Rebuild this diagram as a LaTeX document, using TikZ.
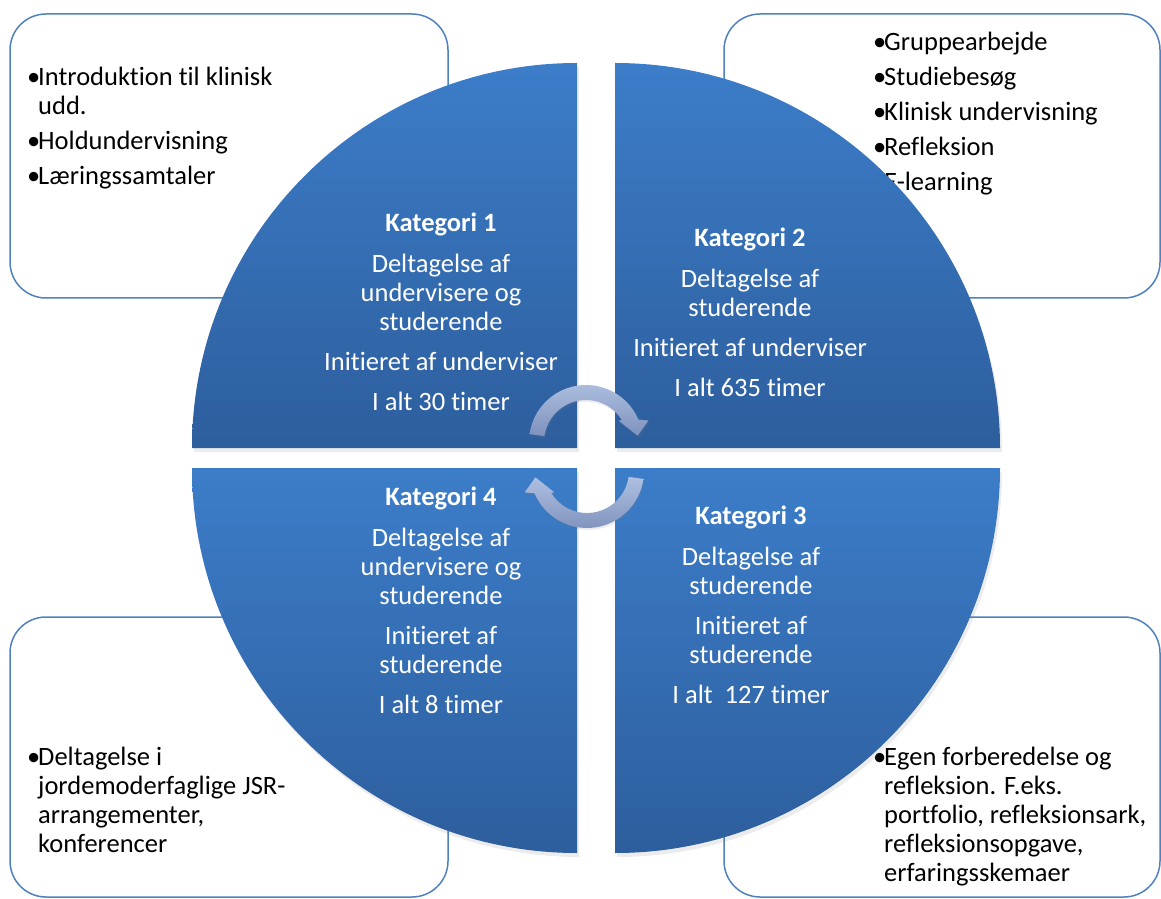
\documentclass[tikz,border=0pt]{standalone}
\usepackage{fontspec}
\setmainfont{Carlito}[Ligatures=NoCommon]
\usetikzlibrary{shadows}
\definecolor{rammeblaa}{RGB}{79,129,189}
\definecolor{kvtop}{RGB}{60,125,201}
\definecolor{kvbund}{RGB}{45,94,157}
\definecolor{piltop}{RGB}{174,192,224}
\definecolor{pilbund}{RGB}{126,145,189}
\newcommand{\pkt}{\makebox[11pt][l]{\textbullet}}
\newcommand{\fort}{\hspace*{11pt}}

\begin{document}
\begin{tikzpicture}[line cap=round,line join=round,x=1pt,y=1pt,
    ramme/.style={draw=rammeblaa,line width=1.5pt,rounded corners=36pt},
    kvadrant/.style={top color=kvtop,bottom color=kvbund,
      drop shadow={shadow xshift=2pt,shadow yshift=-4pt,opacity=0.15}},
    kattekst/.style={anchor=north,align=center,inner sep=0pt,text=white,
      font=\fontsize{26.5}{29}\selectfont},
    punkter/.style={anchor=north west,align=left,inner sep=0pt,
      font=\fontsize{26.5}{29}\selectfont},
    pil/.style={top color=piltop,bottom color=pilbund,
      drop shadow={shadow xshift=1pt,shadow yshift=-2pt,opacity=0.15}}]
    \useasboundingbox (0,0) rectangle (1161,898);
    \draw[ramme] (10,600) rectangle (448,884);
    \draw[ramme] (724,600) rectangle (1160,884);
    \draw[ramme] (10,1) rectangle (448,281);
    \draw[ramme] (724,1) rectangle (1160,281);
    \node[punkter] (liste1) at (27,831) {\pkt Introduktion til klinisk\\\fort udd.\\[6pt]\pkt Holdundervisning\\[6pt]\pkt Læringssamtaler};
    \node[punkter] (liste2) at (873,866) {\pkt Gruppearbejde\\[6pt]\pkt Studiebesøg\\[6pt]\pkt Klinisk undervisning\\[6pt]\pkt Refleksion\\[6pt]\pkt E-learning};
    \node[punkter] (liste3) at (873,151) {\pkt Egen forberedelse og\\\fort refleksion. F.eks.\\\fort portfolio, refleksionsark,\\\fort refleksionsopgave,\\\fort erfaringsskemaer};
    \node[punkter] (liste4) at (27,151) {\pkt Deltagelse i\\\fort jordemoderfaglige JSR-\\\fort arrangementer,\\\fort konferencer};
    \path[kvadrant] (577,450) -- (192,450) arc[start angle=180,end angle=90,radius=385] -- cycle;
    \path[kvadrant] (615,450) -- (615,835) arc[start angle=90,end angle=0,radius=385] -- cycle;
    \path[kvadrant] (615,430) -- (1000,430) arc[start angle=0,end angle=-90,radius=385] -- cycle;
    \path[kvadrant] (577,430) -- (577,45) arc[start angle=270,end angle=180,radius=385] -- cycle;
    \node[kattekst] (kat1) at (441,685) {\textbf{Kategori 1}\\[12pt]Deltagelse af\\undervisere og\\studerende\\[11pt]Initieret af underviser\\[11pt]I alt 30 timer};
    \node[kattekst] (kat2) at (750,670) {\textbf{Kategori 2}\\[12pt]Deltagelse af\\studerende\\[11pt]Initieret af underviser\\[11pt]I alt 635 timer};
    \node[kattekst] (kat3) at (751,392) {\textbf{Kategori 3}\\[12pt]Deltagelse af\\studerende\\[11pt]Initieret af\\studerende\\[11pt]I alt\ \ 127 timer};
    \node[kattekst] (kat4) at (441,411) {\textbf{Kategori 4}\\[12pt]Deltagelse af\\undervisere og\\studerende\\[11pt]Initieret af\\studerende\\[11pt]I alt 8 timer};
    \begin{scope}[shift={(586,456)}]
      \path[pil] (172:57) arc[start angle=172,end angle=23,radius=57] -- (19:66) -- (7:52) -- (33:39) -- (31.5:42) arc[start angle=31.5,end angle=172,radius=42] -- cycle;
    \end{scope}
    \begin{scope}[shift={(587,427)}]
      \path[pil] (352:57) arc[start angle=352,end angle=203,radius=57] -- (199:66) -- (187:52) -- (213:39) -- (211.5:42) arc[start angle=211.5,end angle=352,radius=42] -- cycle;
    \end{scope}
\end{tikzpicture}
\end{document}
